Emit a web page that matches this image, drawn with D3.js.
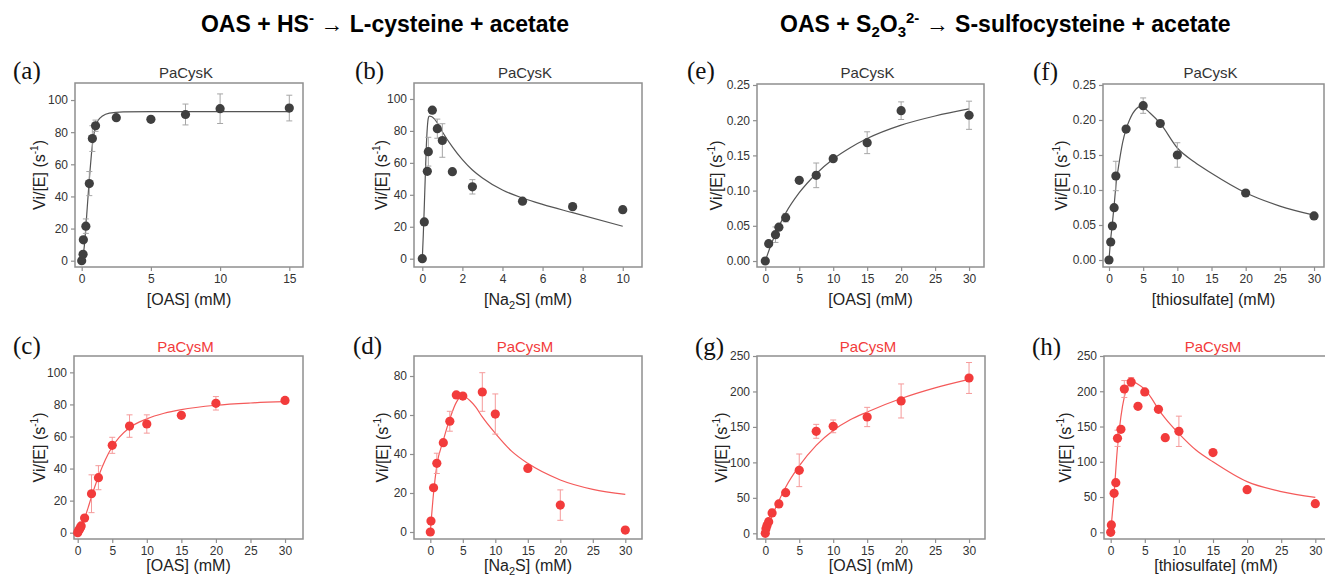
<!DOCTYPE html>
<html>
<head>
<meta charset="utf-8">
<script src="https://cdn.jsdelivr.net/npm/d3@7"></script>
<style>
  body { margin: 0; background: #fff; }
</style>
</head>
<body>
<div class="canvas"></div>
<script>
// ---- data ----
// (a) PaCysK, OAS, sulfide reaction
const aX = [0, 0.1, 0.12, 0.3, 0.55, 0.77, 1, 2.5, 5, 7.5, 10, 15];
const aY = [0, 4, 13, 21.5, 48, 76, 84, 89, 88, 91, 94.6, 95];
const aErr = [0, 0, 0, 4.5, 7.5, 8, 3.5, 0, 0, 6.5, 9.2, 8];
const aFitX = [0, 0.1, 0.2, 0.3, 0.4, 0.5, 0.6, 0.7, 0.8, 0.9, 1, 1.2, 1.5, 2, 3, 5, 10, 15];
const aFitY = [0, 3, 10, 21, 33, 45, 56, 66, 74, 79.5, 83.5, 87.5, 90, 91.8, 92.6, 92.8, 92.8, 92.8];

// (b) PaCysK, Na2S
const bX = [0, 0.1, 0.25, 0.3, 0.5, 0.75, 1, 1.5, 2.5, 5, 7.5, 10];
const bY = [0, 23, 54.7, 67, 93, 81.4, 74, 54.5, 45, 36, 32.6, 30.7];
const bErr = [0, 0, 0, 9, 0, 6, 10.5, 0, 4.5, 0, 0, 2];
const bFitX = [0, 0.05, 0.1, 0.15, 0.2, 0.25, 0.3, 0.35, 0.45, 0.6, 0.75, 1, 1.5, 2, 2.5, 3, 4, 5, 6, 7.5, 10];
const bFitY = [0, 15, 33, 52, 70, 82, 88, 89.2, 89, 87.5, 85, 79.5, 70, 62, 55.5, 50.5, 43, 38, 34, 28.8, 20.3];

// (c) PaCysM, OAS
const cX = [0, 0.1, 0.25, 0.4, 0.5, 1, 2, 3, 5, 7.5, 10, 15, 20, 30];
const cY = [0, 1.2, 2, 3.3, 4.2, 9.1, 24.3, 34.3, 54.5, 66.5, 67.8, 73.2, 80.7, 82.5];
const cErr = [0, 0, 0, 0, 0, 0, 11.8, 7.5, 5, 7, 5.7, 0, 4.2, 0];
const cFitX = [0, 0.5, 1, 1.5, 2, 3, 4, 5, 6, 7.5, 10, 12.5, 15, 20, 25, 30];
const cFitY = [0, 3.5, 9, 15.5, 22.5, 35, 45.5, 53.6, 59.5, 65.5, 71, 74.5, 76.8, 79.5, 80.9, 81.7];

// (d) PaCysM, Na2S
const dX = [0, 0.1, 0.5, 1, 2, 3, 4, 5, 8, 10, 15, 20, 30];
const dY = [0, 5.6, 22.7, 35.2, 45.8, 56.8, 70.3, 69.7, 71.8, 60.5, 32.6, 13.8, 1.0];
const dErr = [0, 0, 0, 5.2, 0, 5.1, 0, 0, 9.9, 10.3, 0, 7.8, 0];
const dFitX = [0, 0.5, 1, 2, 3, 4, 4.8, 5.5, 6, 7, 8, 10, 12.5, 15, 20, 25, 30];
const dFitY = [0, 20, 34, 47, 58, 66.5, 69.4, 69, 67.7, 64, 59, 50.6, 41.5, 35.2, 26.7, 21.9, 19.3];

// (e) PaCysK, OAS, thiosulfate reaction
const eX = [0, 0.5, 1.5, 2, 3, 5, 7.5, 10, 15, 20, 30];
const eY = [0, 0.0246, 0.0374, 0.048, 0.0616, 0.1146, 0.1217, 0.1454, 0.168, 0.2135, 0.207];
const eErr = [0, 0, 0.011, 0.003, 0.006, 0, 0.0175, 0.002, 0.0155, 0.0125, 0.02];
const eFitX = [0, 1, 2, 3, 5, 7.5, 10, 12.5, 15, 20, 25, 30];
const eFitY = [0, 0.027, 0.049, 0.068, 0.097, 0.124, 0.145, 0.161, 0.174, 0.193, 0.206, 0.216];

// (f) PaCysK, thiosulfate
const fX = [0, 0.25, 0.5, 0.75, 1, 2.5, 5, 7.5, 10, 20, 30];
const fY = [0, 0.0257, 0.0486, 0.0748, 0.12, 0.187, 0.2205, 0.195, 0.15, 0.0957, 0.0629];
const fErr = [0, 0, 0, 0, 0.021, 0, 0.011, 0, 0.0175, 0, 0];
const fFitX = [0, 0.25, 0.5, 0.75, 1, 1.5, 2, 2.5, 3, 4, 4.5, 5, 6, 7.5, 10, 12.5, 15, 20, 25, 30];
const fFitY = [0, 0.03, 0.053, 0.078, 0.105, 0.14, 0.168, 0.187, 0.2, 0.216, 0.219, 0.218, 0.21, 0.195, 0.16, 0.14, 0.124, 0.096, 0.077, 0.064];

// (g) PaCysM, OAS
const gX = [0, 0.1, 0.25, 0.5, 1, 2, 3, 5, 7.5, 10, 15, 20, 30];
const gY = [0, 6.5, 11, 16.4, 28.7, 41.4, 57.3, 88.8, 143.8, 150.8, 164, 186.6, 219];
const gErr = [0, 0, 0, 4, 5, 4, 3, 23, 9.8, 9, 13.6, 24, 21.8];
const gFitX = [0, 1, 2, 3, 5, 7.5, 10, 12.5, 15, 20, 25, 30];
const gFitY = [0, 24.5, 46, 65, 95, 124, 145, 160, 171, 190, 205, 217];

// (h) PaCysM, thiosulfate
const hX = [0, 0.1, 0.5, 0.75, 1, 1.5, 2, 3, 4, 5, 7, 8, 10, 15, 20, 30];
const hY = [0, 10.4, 55.3, 70.4, 133.3, 146, 203.2, 213, 178.6, 199, 174.4, 134.2, 143.2, 113, 60.5, 40.6];
const hErr = [0, 0, 0, 0, 11.5, 0, 12, 6.5, 0, 0, 0, 0, 21.5, 0, 0, 0];
const hFitX = [0, 0.5, 1, 1.5, 2, 2.5, 3.2, 4, 5, 6, 7, 8, 10, 12.5, 15, 20, 25, 30];
const hFitY = [0, 55, 121, 164, 192, 207.5, 213.6, 210, 202.7, 190, 174.4, 161.6, 140, 116.7, 100, 71.8, 57.7, 49.6];

// tick labels
const ticks0to15 = [0, 5, 10, 15];
const ticks0to10 = [0, 2, 4, 6, 8, 10];
const ticks0to30 = [0, 5, 10, 15, 20, 25, 30];
const ticks0to100 = [0, 20, 40, 60, 80, 100];
const ticks0to80 = [0, 20, 40, 60, 80];
const ticksRate = [0, 0.05, 0.1, 0.15, 0.2, 0.25];
const ticks0to250 = [0, 50, 100, 150, 200, 250];

// ---- styles ----
const darkCol = { pt: '#3f3f3f', line: '#555555', err: '#a6a6a6', title: '#333333' };
const redCol = { pt: '#f23b3b', line: '#f45a5a', err: '#f59a9a', title: '#f23b3b' };
const frameCol = '#8f8f8f';

const svg = d3.select('.canvas').append('svg')
  .attr('width', 1325).attr('height', 576)
  .style('font-family', '"Liberation Sans", Arial, sans-serif');

// ---- panels ----
const panels = [
  { tag: '(a)', enzyme: 'PaCysK', col: darkCol, x: aX, y: aY, err: aErr, fx: aFitX, fy: aFitY,
    left: 75, right: 303, top: 83, bottom: 267, xd: [-0.484, 15.99], yd: [-3.92, 110.6],
    xt: ticks0to15, yt: ticks0to100, xlab: 'OAS', ylabOff: 30, tagX: 13, tagY: 79, titleY: 78, xlabY: 305 },
  { tag: '(b)', enzyme: 'PaCysK', col: darkCol, x: bX, y: bY, err: bErr, fx: bFitX, fy: bFitY,
    left: 414, right: 642, top: 83, bottom: 267, xd: [-0.414, 10.96], yd: [-5.2, 110],
    xt: ticks0to10, yt: ticks0to100, xlab: 'Na2S', ylabOff: 27, tagX: 355, tagY: 79, titleY: 78, xlabY: 305 },
  { tag: '(c)', enzyme: 'PaCysM', col: redCol, x: cX, y: cY, err: cErr, fx: cFitX, fy: cFitY,
    left: 74, right: 303, top: 356, bottom: 539, xd: [-0.535, 32.6], yd: [-3.93, 110.2],
    xt: ticks0to30, yt: ticks0to100, xlab: 'OAS', ylabOff: 29, tagX: 13, tagY: 354, titleY: 352, xlabY: 571 },
  { tag: '(d)', enzyme: 'PaCysM', col: redCol, x: dX, y: dY, err: dErr, fx: dFitX, fy: dFitY,
    left: 414, right: 642, top: 356, bottom: 539, xd: [-2.51, 32.57], yd: [-3.59, 90.26],
    xt: ticks0to30, yt: ticks0to80, xlab: 'Na2S', ylabOff: 26, tagX: 353, tagY: 354, titleY: 352, xlabY: 571 },
  { tag: '(e)', enzyme: 'PaCysK', col: darkCol, x: eX, y: eY, err: eErr, fx: eFitX, fy: eFitY,
    left: 757, right: 984, top: 84, bottom: 267, xd: [-1.22, 32.2], yd: [-0.0085, 0.2514],
    xt: ticks0to30, yt: ticksRate, yfmt: '.2f', xlab: 'OAS', ylabOff: 35.5, tagX: 687, tagY: 79, titleY: 78, xlabY: 305 },
  { tag: '(f)', enzyme: 'PaCysK', col: darkCol, x: fX, y: fY, err: fErr, fx: fFitX, fy: fFitY,
    left: 1103, right: 1324, top: 84, bottom: 267, xd: [-0.878, 31.46], yd: [-0.01, 0.2514],
    xt: ticks0to30, yt: ticksRate, yfmt: '.2f', xlab: 'thiosulfate', ylabOff: 36.5, tagX: 1033, tagY: 80, titleY: 78, xlabY: 305 },
  { tag: '(g)', enzyme: 'PaCysM', col: redCol, x: gX, y: gY, err: gErr, fx: gFitX, fy: gFitY,
    left: 757, right: 985, top: 356, bottom: 539, xd: [-1.22, 32.35], yd: [-8.04, 250],
    xt: ticks0to30, yt: ticks0to250, xlab: 'OAS', ylabOff: 30.5, tagX: 695, tagY: 355, titleY: 352, xlabY: 571 },
  { tag: '(h)', enzyme: 'PaCysM', col: redCol, x: hX, y: hY, err: hErr, fx: hFitX, fy: hFitY,
    left: 1104, right: 1328, top: 356, bottom: 539, xd: [-0.98, 31.86], yd: [-9.5, 250],
    xt: ticks0to30, yt: ticks0to250, xlab: 'thiosulfate', ylabOff: 33, tagX: 1032, tagY: 355, titleY: 352, xlabY: 571 }
];

function drawPanel(p) {
  const x = d3.scaleLinear().domain(p.xd).range([p.left, p.right]);
  const y = d3.scaleLinear().domain(p.yd).range([p.bottom, p.top]);
  const g = svg.append('g');
  const cx = (p.left + p.right) / 2;

  //axes
  const xAxis = g.append('g')
    .attr('transform', `translate(0,${p.bottom})`)
    .call(d3.axisBottom(x).tickValues(p.xt).tickSize(4).tickPadding(3).tickFormat(d3.format('d')));
  const yAxis = g.append('g')
    .attr('transform', `translate(${p.left},0)`)
    .call(d3.axisLeft(y).tickValues(p.yt).tickSize(4).tickPadding(3)
      .tickFormat(d3.format(p.yfmt || 'd')));
  [xAxis, yAxis].forEach(ax => {
    ax.select('.domain').remove();
    ax.selectAll('line').attr('stroke', frameCol).attr('stroke-width', 1.2);
    ax.selectAll('text').attr('fill', '#333').style('font-size', '12px')
      .style('font-family', '"Liberation Sans", Arial, sans-serif');
  });

  //frame
  g.append('rect')
    .attr('x', p.left).attr('y', p.top)
    .attr('width', p.right - p.left).attr('height', p.bottom - p.top)
    .attr('fill', 'none').attr('stroke', frameCol).attr('stroke-width', 1.5);

  //fitted curve
  const fit = p.fx.map((v, i) => [v, p.fy[i]]);
  g.append('path')
    .datum(fit)
    .attr('fill', 'none')
    .attr('stroke', p.col.line)
    .attr('stroke-width', 1.2)
    .attr('d', d3.line().x(d => x(d[0])).y(d => y(d[1])).curve(d3.curveMonotoneX));

  //error bars
  const pts = p.x.map((v, i) => ({ x: v, y: p.y[i], e: p.err[i] }));
  const eb = g.append('g').attr('stroke', p.col.err).attr('stroke-width', 1);
  pts.filter(d => d.e > 0).forEach(d => {
    eb.append('line').attr('x1', x(d.x)).attr('x2', x(d.x)).attr('y1', y(d.y - d.e)).attr('y2', y(d.y + d.e));
    eb.append('line').attr('x1', x(d.x) - 3).attr('x2', x(d.x) + 3).attr('y1', y(d.y - d.e)).attr('y2', y(d.y - d.e));
    eb.append('line').attr('x1', x(d.x) - 3).attr('x2', x(d.x) + 3).attr('y1', y(d.y + d.e)).attr('y2', y(d.y + d.e));
  });

  //points
  g.selectAll('circle.pt')
    .data(pts)
    .join('circle')
    .attr('class', 'pt')
    .attr('cx', d => x(d.x))
    .attr('cy', d => y(d.y))
    .attr('r', 4.6)
    .attr('fill', p.col.pt);

  //enzyme title
  g.append('text')
    .attr('x', cx - 3).attr('y', p.titleY)
    .attr('text-anchor', 'middle')
    .attr('fill', p.col.title)
    .style('font-size', '15px')
    .text(p.enzyme);

  //panel tag
  g.append('text')
    .attr('x', p.tagX).attr('y', p.tagY)
    .style('font-family', '"Liberation Serif", "Times New Roman", serif')
    .style('font-size', '25px')
    .attr('fill', '#111')
    .text(p.tag);

  //x label
  const xl = g.append('text')
    .attr('x', cx).attr('y', p.xlabY)
    .attr('text-anchor', 'middle')
    .attr('fill', '#222')
    .style('font-size', '16px');
  if (p.xlab === 'Na2S') {
    xl.append('tspan').text('[Na');
    xl.append('tspan').attr('dy', 4).style('font-size', '11px').text('2');
    xl.append('tspan').attr('dy', -4).text('S] (mM)');
  } else {
    xl.text(`[${p.xlab}] (mM)`);
  }

  //y label
  const yl = g.append('text')
    .attr('transform', `translate(${p.left - p.ylabOff},${(p.top + p.bottom) / 2}) rotate(-90)`)
    .attr('text-anchor', 'middle')
    .attr('fill', '#222')
    .style('font-size', '16px');
  yl.append('tspan').text('Vi/[E] (s');
  yl.append('tspan').attr('dy', -7).style('font-size', '10px').text('-1');
  yl.append('tspan').attr('dy', 7).text(')');
}

panels.forEach(drawPanel);

//reaction titles
const t1 = svg.append('text')
  .attr('x', 569).attr('y', 31.5)
  .attr('text-anchor', 'end')
  .style('font-size', '23px').style('font-weight', 'bold')
  .attr('fill', '#000');
t1.append('tspan').text('OAS + HS');
t1.append('tspan').attr('dy', -9).style('font-size', '15px').text('-');
t1.append('tspan').attr('dy', 9).style('font-weight', 'normal').text(' \u2192 ');
t1.append('tspan').text('L-cysteine + acetate');

const t2 = svg.append('text')
  .attr('x', 780).attr('y', 31.5)
  .style('font-size', '23px').style('font-weight', 'bold')
  .attr('fill', '#000');
t2.append('tspan').text('OAS + S');
t2.append('tspan').attr('dy', 5).style('font-size', '15px').text('2');
t2.append('tspan').attr('dy', -5).text('O');
t2.append('tspan').attr('dy', 5).style('font-size', '15px').text('3');
t2.append('tspan').attr('dy', -14).style('font-size', '15px').text('2-');
t2.append('tspan').attr('dy', 9).style('font-weight', 'normal').text(' \u2192 ');
t2.append('tspan').text('S-sulfocysteine + acetate');
</script>
</body>
</html>
